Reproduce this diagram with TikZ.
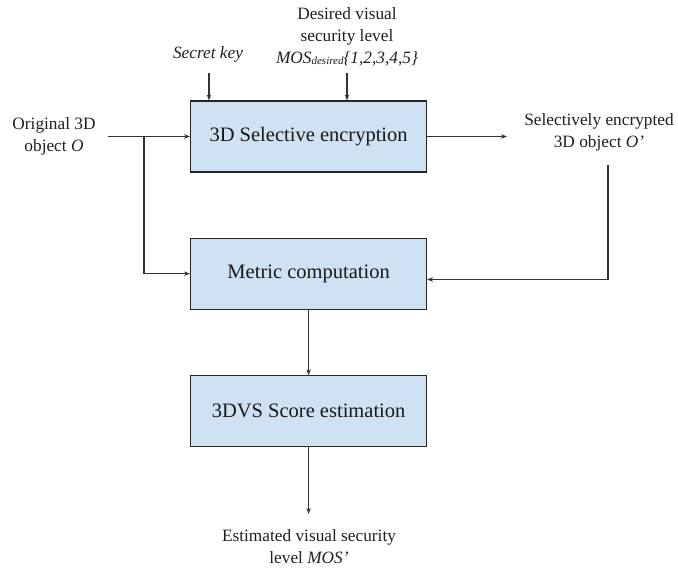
\documentclass[tikz,border=0pt]{standalone}
\usepackage{fontspec}
\setmainfont{Liberation Serif}
\usetikzlibrary{arrows.meta}
\definecolor{boxfill}{HTML}{CFE2F3}
\definecolor{linec}{HTML}{333333}
\begin{document}
\begin{tikzpicture}[x=1pt,y=-1pt,
  procbox/.style={draw=black!85,line width=1.1pt,fill=boxfill,minimum width=236pt,minimum height=71pt,inner sep=0pt,font=\fontsize{20.5}{24}\selectfont,text=black!90},
  lbl/.style={align=center,font=\fontsize{17.3}{22}\selectfont,text=black!88,inner sep=0pt},
  arr/.style={draw=linec,line width=1.1pt,-{Stealth[length=6pt,width=4.5pt]}},
  ln/.style={draw=linec,line width=1pt}]
\useasboundingbox (0,0) rectangle (678,568);
% boxes
\node[procbox] (b1) at (308.6,136.5) {3D Selective encryption};
\node[procbox] (b2) at (308.6,273.7) {Metric computation};
\node[procbox] (b3) at (308.6,411.3) {3DVS Score estimation};
% labels
\node[lbl] (orig) at (54,136) {Original 3D\\object \textit{O}};
\node[lbl] (seck) at (208,54) {\textit{Secret key}};
\node[lbl] (desired) at (347,37) {Desired visual\\security level\\\textit{MOS\raisebox{-1pt}{\fontsize{11}{11}\selectfont desired}\{1,2,3,4,5\}}};
\node[lbl] (encr) at (599,132) {Selectively encrypted\\3D object \textit{O’}};
\node[lbl] (est) at (309,547) {Estimated visual security\\level \textit{MOS’}};
% coordinates
\coordinate (oin) at (108,136.5);
\coordinate (br) at (144,136.5);
\coordinate (skc) at (209,73);
\coordinate (mosc) at (347,73);
\coordinate (outr) at (507,136.5);
\coordinate (fb) at (608,165);
\coordinate (outb) at (308.6,514);
% connectors
\draw[arr] (oin) -- (b1.west);
\draw[arr] (br) |- (b2.west);
\draw[arr] (skc) -- (skc |- b1.north);
\draw[arr] (mosc) -- (mosc |- b1.north);
\draw[arr] (b1.east) -- (outr);
\draw[arr] (fb) |- ([yshift=-5.8pt]b2.east);
\draw[arr] (b2.south) -- (b3.north);
\draw[arr] (b3.south) -- (outb);
\end{tikzpicture}
\end{document}
